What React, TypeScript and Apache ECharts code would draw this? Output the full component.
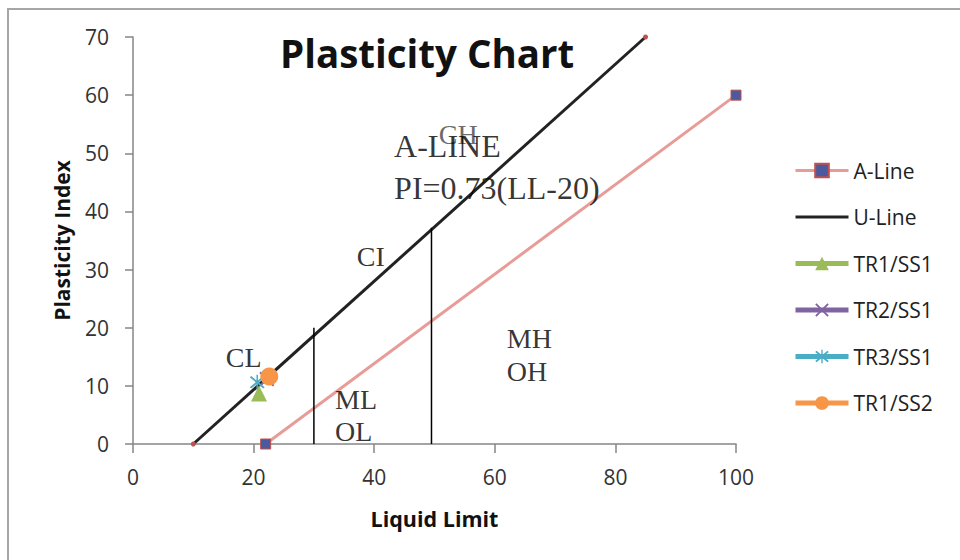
import React, { useEffect, useRef } from "react";
import * as echarts from "echarts";

const xTicks = [0, 20, 40, 60, 80, 100];
const yTicks = [0, 10, 20, 30, 40, 50, 60, 70];

const aLine: number[][] = [[22, 0], [100, 60]];
const uLine: number[][] = [[10, 0], [85, 70]];
const divider1: number[][] = [[30, 0], [30, 20]];
const divider2: number[][] = [[49.5, 0], [49.5, 37.2]];

const tr1ss1: number[][] = [[20.9, 8.7]];
const tr2ss1: number[][] = [[22.2, 11.2]];
const tr3ss1: number[][] = [[20.6, 10.6]];
const tr1ss2: number[][] = [[22.6, 11.6]];

const legendNames = ["A-Line", "U-Line", "TR1/SS1", "TR2/SS1", "TR3/SS1", "TR1/SS2"];

const zoneTexts = ["CH", "A-LINE", "PI=0.73(LL-20)", "CI", "CL", "ML", "OL", "MH", "OH"];
const zoneX = [50.7, 43.3, 43.3, 37.1, 15.4, 33.5, 33.5, 62.0, 62.0];
const zoneY = [53.3, 51.3, 44.0, 32.3, 14.8, 7.7, 2.2, 18.1, 12.4];

const X_PATH =
  "path://M0,2 L2,0 L10,8 L18,0 L20,2 L12,10 L20,18 L18,20 L10,12 L2,20 L0,18 L8,10 Z";
const STAR_PATH =
  "path://M0,2 L2,0 L10,8 L18,0 L20,2 L12,10 L20,18 L18,20 L10,12 L2,20 L0,18 L8,10 Z M9,-2 L11,-2 L11,22 L9,22 Z";
const BAR_PATH = "path://M0,0 L53,0 L53,3 L0,3 Z";

export default function App() {
  const ref = useRef<HTMLDivElement>(null);
  useEffect(() => {
    if (!ref.current) return;
    const chart = echarts.init(ref.current, null, { renderer: "svg" });
    const sans = "'Open Sans', sans-serif";
    const serif = "'Liberation Serif', 'Times New Roman', serif";
    const zoneData = zoneTexts.map((t, i) => ({
      value: [zoneX[i], zoneY[i]],
      label: {
        show: true,
        formatter: t,
        position: [0, 0],
        align: "left",
        verticalAlign: "middle",
        fontFamily: serif,
        fontSize: i === 1 || i === 2 ? 32 : 28,
        color: i === 0 ? "#444444" : "#000000",
      },
    }));
    const legendWidths = [3, 3, 5, 5, 5, 5];
    const legendData = legendNames.map((n, i) =>
      i === 1
        ? { name: n, icon: BAR_PATH, itemStyle: { color: "#222222" } }
        : { name: n, lineStyle: { width: legendWidths[i] } }
    );
    chart.setOption({
      animation: false,
      backgroundColor: "#ffffff",
      title: {
        text: "Plasticity Chart",
        left: 275,
        top: 28,
        textStyle: { fontFamily: sans, fontWeight: "bold", fontSize: 38.5, color: "#111" },
      },
      graphic: [
        {
          type: "rect",
          shape: { x: 8, y: 9, width: 970, height: 570 },
          style: { fill: "none", stroke: "#a6a6a6", lineWidth: 2 },
          silent: true,
        },
      ],
      grid: { left: 133, right: 224, top: 37, bottom: 116, containLabel: false },
      legend: {
        orient: "vertical",
        left: 788,
        top: 155,
        itemWidth: 53,
        itemHeight: 17,
        itemGap: 25.5,
        data: legendData,
        textStyle: { fontFamily: sans, fontSize: 21, color: "#222" },
      },
      xAxis: {
        type: "value",
        min: xTicks[0],
        max: xTicks[xTicks.length - 1],
        interval: 20,
        name: "Liquid Limit",
        nameLocation: "middle",
        nameGap: 63,
        nameTextStyle: { fontFamily: sans, fontWeight: "bold", fontSize: 21.5, color: "#111" },
        axisLine: { lineStyle: { color: "#868686", width: 1.5 } },
        axisTick: { length: 9, lineStyle: { color: "#868686", width: 1.5 } },
        axisLabel: { margin: 22, fontFamily: sans, fontSize: 21, color: "#333" },
        splitLine: { show: false },
      },
      yAxis: {
        type: "value",
        min: yTicks[0],
        max: yTicks[yTicks.length - 1],
        interval: 10,
        name: "Plasticity Index",
        nameLocation: "middle",
        nameGap: 61,
        nameTextStyle: { fontFamily: sans, fontWeight: "bold", fontSize: 21, color: "#111" },
        axisLine: { show: true, lineStyle: { color: "#868686", width: 1.5 } },
        axisTick: { show: true, length: 8, lineStyle: { color: "#868686", width: 1.5 } },
        axisLabel: { margin: 24, fontFamily: sans, fontSize: 21, color: "#333" },
        splitLine: { show: false },
      },
      series: [
        {
          name: "A-Line",
          type: "line",
          data: aLine,
          symbol: "rect",
          symbolSize: 10,
          lineStyle: { color: "#e89c98", width: 3 },
          itemStyle: { color: "#4b5a9e", borderColor: "#c0504d", borderWidth: 1 },
        },
        {
          name: "U-Line",
          type: "line",
          data: uLine,
          symbol: "circle",
          symbolSize: 5,
          lineStyle: { color: "#222222", width: 3 },
          itemStyle: { color: "#c0504d" },
        },
        {
          name: "div1",
          type: "line",
          data: divider1,
          symbol: "none",
          silent: true,
          lineStyle: { color: "#000", width: 1.5 },
        },
        {
          name: "div2",
          type: "line",
          data: divider2,
          symbol: "none",
          silent: true,
          lineStyle: { color: "#000", width: 1.5 },
        },
        {
          name: "TR1/SS1",
          type: "line",
          data: tr1ss1,
          symbol: "triangle",
          symbolSize: 16,
          lineStyle: { color: "#9bbb59", width: 5 },
          itemStyle: { color: "#9bbb59" },
        },
        {
          name: "TR2/SS1",
          type: "line",
          data: tr2ss1,
          symbol: X_PATH,
          symbolSize: 15,
          lineStyle: { color: "#8064a2", width: 5 },
          itemStyle: { color: "#8064a2" },
        },
        {
          name: "TR3/SS1",
          type: "line",
          data: tr3ss1,
          symbol: STAR_PATH,
          symbolSize: 15,
          lineStyle: { color: "#4bacc6", width: 5 },
          itemStyle: { color: "#4bacc6" },
        },
        {
          name: "TR1/SS2",
          type: "line",
          data: tr1ss2,
          symbol: "circle",
          symbolSize: 18,
          lineStyle: { color: "#f79646", width: 5 },
          itemStyle: { color: "#f79646" },
        },
        {
          name: "zones",
          type: "scatter",
          data: zoneData,
          symbolSize: 0,
          silent: true,
          z: 10,
        },
      ],
    });
    return () => chart.dispose();
  }, []);
  return (
    <div
      ref={ref}
      style={{ position: "fixed", left: 0, top: 0, width: 960, height: 560, background: "#fff" }}
    />
  );
}
